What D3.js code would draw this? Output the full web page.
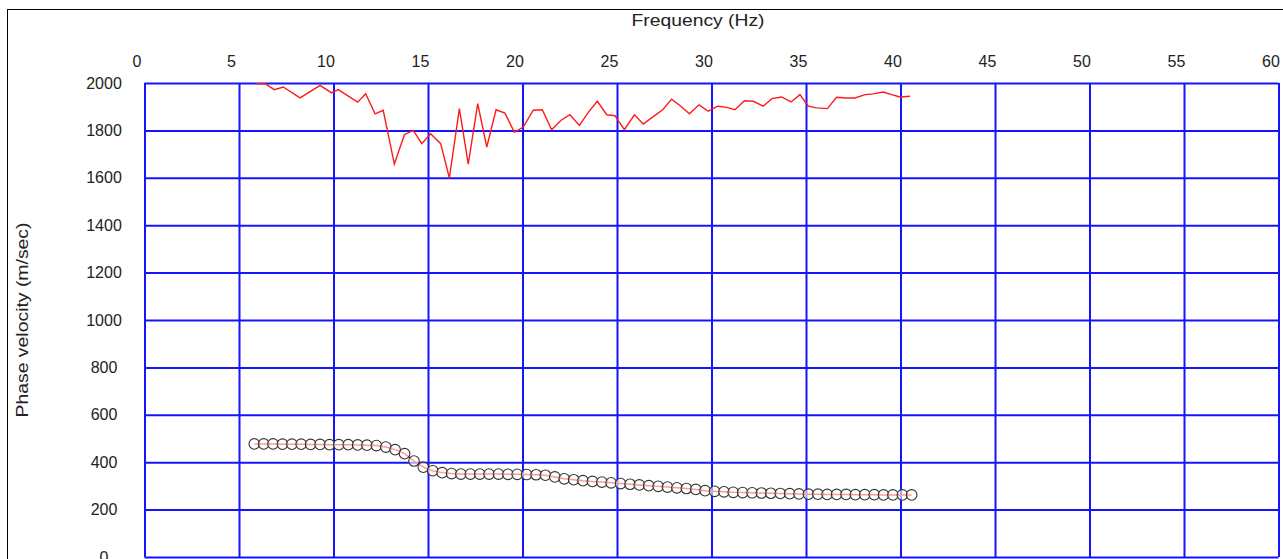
<!DOCTYPE html>
<html lang="en">
<head>
<meta charset="UTF-8">
<title>Phase velocity vs frequency</title>
<script src="https://d3js.org/d3.v7.min.js"></script>
<style>
  body { margin: 0; background: #fff; }
  text { font-family: "Liberation Sans", Arial, sans-serif; fill: #222; }
</style>
</head>
<body>
<script>
// tick labels
const xTicks = [0, 5, 10, 15, 20, 25, 30, 35, 40, 45, 50, 55, 60];
const yTicks = [0, 200, 400, 600, 800, 1000, 1200, 1400, 1600, 1800, 2000];

// upper (noisy) curve
const upperFreq = [5.94, 6.38, 6.87, 7.34, 8.23, 9.29, 9.90, 10.25, 11.28, 11.70,
  12.20, 12.63, 13.22, 13.75, 14.22, 14.67, 15.14, 15.67, 16.13, 16.66,
  17.13, 17.63, 18.11, 18.60, 19.07, 19.57, 20.04, 20.57, 21.05, 21.54,
  22.04, 22.51, 23.01, 23.48, 23.96, 24.46, 24.89, 25.39, 25.92, 26.39,
  26.90, 27.42, 27.89, 28.36, 28.83, 29.34, 29.83, 30.33, 30.80, 31.24,
  31.74, 32.21, 32.74, 33.19, 33.71, 34.21, 34.68, 35.12, 35.57, 36.13,
  36.62, 37.12, 37.59, 38.12, 38.56, 39.09, 39.53, 39.97, 40.50];
const upperVel = [1997, 1997, 1972, 1983, 1937, 1990, 1958, 1972, 1919, 1955,
  1870, 1885, 1658, 1782, 1800, 1744, 1786, 1744, 1599, 1892,
  1658, 1913, 1730, 1887, 1873, 1792, 1814, 1885, 1887, 1803,
  1843, 1866, 1821, 1876, 1923, 1866, 1862, 1803, 1866, 1827,
  1857, 1887, 1932, 1903, 1870, 1908, 1881, 1902, 1897, 1887,
  1925, 1923, 1902, 1934, 1941, 1920, 1951, 1902, 1895, 1892,
  1940, 1937, 1937, 1951, 1954, 1962, 1951, 1941, 1944];

// picked dispersion curve (circles)
const pickFreq = [5.81, 6.31, 6.80, 7.30, 7.80, 8.29, 8.79, 9.29, 9.79, 10.28,
  10.78, 11.28, 11.77, 12.27, 12.77, 13.26, 13.76, 14.26, 14.75, 15.25,
  15.75, 16.25, 16.74, 17.24, 17.74, 18.23, 18.73, 19.23, 19.72, 20.22,
  20.72, 21.21, 21.71, 22.21, 22.71, 23.20, 23.70, 24.20, 24.69, 25.19,
  25.69, 26.18, 26.68, 27.18, 27.67, 28.17, 28.67, 29.17, 29.66, 30.16,
  30.66, 31.15, 31.65, 32.15, 32.64, 33.14, 33.64, 34.14, 34.63, 35.13,
  35.63, 36.12, 36.62, 37.12, 37.61, 38.11, 38.61, 39.10, 39.60, 40.10,
  40.59];
const pickVel = [477, 477, 477, 476, 476, 476, 475, 475, 474, 474,
  474, 473, 472, 470, 464, 453, 436, 405, 379, 364,
  356, 352, 350, 350, 350, 350, 350, 349, 349, 348,
  347, 345, 338, 330, 326, 322, 319, 316, 313, 310,
  307, 304, 301, 298, 295, 292, 289, 285, 280, 277,
  275, 273, 272, 271, 270, 269, 268, 267, 266, 265,
  265, 264, 264, 264, 263, 263, 263, 262, 262, 262,
  262];

const W = 1283, H = 559;
const svg = d3.select("body").append("svg")
  .attr("width", W).attr("height", H);

// outer frame
svg.append("rect")
  .attr("x", 7.5).attr("y", 9.5)
  .attr("width", W + 10).attr("height", H + 10)
  .attr("fill", "none").attr("stroke", "#000").attr("stroke-width", 1);

const x = d3.scaleLinear().domain([0, 60]).range([144.5, 1278.5]);
const y = d3.scaleLinear().domain([0, 2000]).range([557, 83]);

const blue = "#1414ff";

// grid lines
svg.append("g")
  .attr("transform", `translate(0,${y(0)})`)
  .call(d3.axisBottom(x).tickValues(xTicks).tickSize(-(y(0) - y(2000))).tickFormat(""))
  .call(g => g.select(".domain").remove())
  .call(g => g.selectAll("line").attr("stroke", blue).attr("stroke-width", 2));

svg.append("g")
  .attr("transform", `translate(${x(0)},0)`)
  .call(d3.axisLeft(y).tickValues(yTicks).tickSize(-(x(60) - x(0))).tickFormat(""))
  .call(g => g.select(".domain").remove())
  .call(g => g.selectAll("line").attr("stroke", blue).attr("stroke-width", 2));

// x tick labels (top)
const xAxis = svg.append("g")
  .attr("transform", `translate(0,67)`)
  .call(d3.axisTop(x).tickValues(xTicks).tickSize(0).tickPadding(0).tickFormat(d3.format("d")));
xAxis.select(".domain").remove();
xAxis.selectAll("text")
  .attr("font-size", 16).attr("font-family", null)
  .attr("dx", -8).attr("dy", 0).attr("fill", "#222");

// y tick labels
const yAxis = svg.append("g")
  .attr("transform", `translate(104,0)`)
  .call(d3.axisLeft(y).tickValues(yTicks).tickSize(0).tickPadding(0).tickFormat(d3.format("d")));
yAxis.select(".domain").remove();
yAxis.selectAll("text")
  .attr("font-size", 16).attr("font-family", null)
  .attr("text-anchor", "middle").attr("x", 0).attr("fill", "#222");

// axis titles
svg.append("text")
  .attr("x", 698).attr("y", 26)
  .attr("text-anchor", "middle")
  .attr("font-size", 17)
  .attr("textLength", 133).attr("lengthAdjust", "spacingAndGlyphs")
  .text("Frequency (Hz)");

svg.append("text")
  .attr("transform", "translate(28,320) rotate(-90)")
  .attr("text-anchor", "middle")
  .attr("font-size", 17)
  .attr("textLength", 195).attr("lengthAdjust", "spacingAndGlyphs")
  .text("Phase velocity (m/sec)");

const line = d3.line().x(d => x(d[0])).y(d => y(d[1]));

// upper curve
svg.append("path")
  .datum(upperFreq.map((f, i) => [f, upperVel[i]]))
  .attr("d", line)
  .attr("fill", "none").attr("stroke", "#ff1a1a").attr("stroke-width", 1.4);

// picked curve line + circles
const picks = pickFreq.map((f, i) => [f, pickVel[i]]);
svg.append("path")
  .datum(picks)
  .attr("d", line)
  .attr("fill", "none").attr("stroke", "#ff0000").attr("stroke-width", 1.5);

svg.selectAll("circle.pick")
  .data(picks)
  .enter().append("circle")
  .attr("class", "pick")
  .attr("cx", d => x(d[0]))
  .attr("cy", d => y(d[1]))
  .attr("r", 5.3)
  .attr("fill", "rgba(255,255,255,0.6)")
  .attr("stroke", "#333")
  .attr("stroke-width", 1.1);
</script>
</body>
</html>
